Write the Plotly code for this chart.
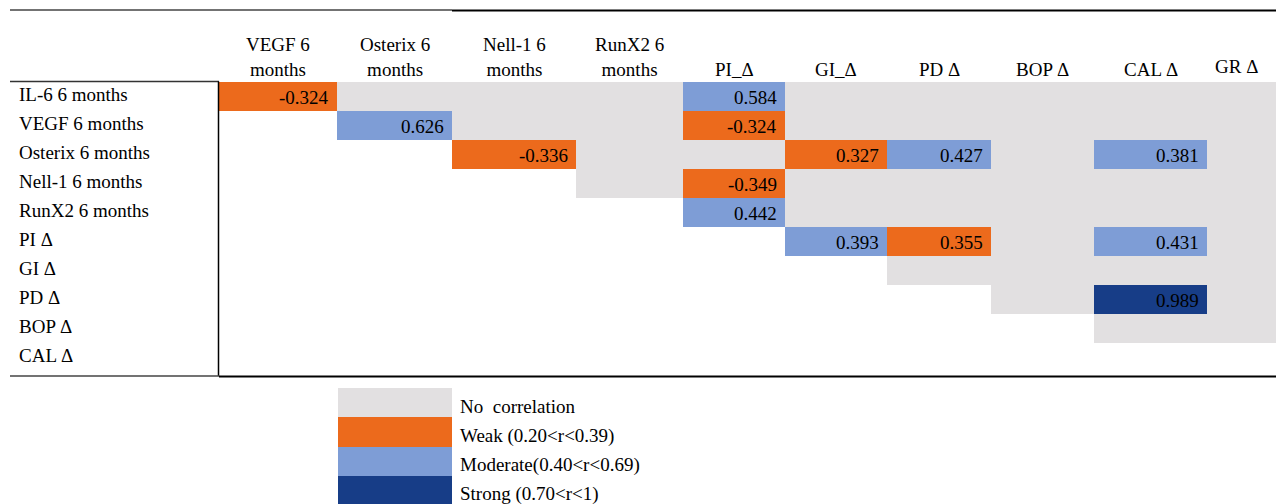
import plotly.graph_objects as go
import numpy as np

# ---------------- data ----------------
row_labels = ["IL-6 6 months", "VEGF 6 months", "Osterix 6 months", "Nell-1 6 months",
              "RunX2 6 months", "PI Δ", "GI Δ", "PD Δ", "BOP Δ", "CAL Δ"]
col_labels = ["VEGF 6<br>months", "Osterix 6<br>months", "Nell-1 6<br>months",
              "RunX2 6<br>months", "PI_Δ", "GI_Δ", "PD Δ", "BOP Δ", "CAL Δ", "GR Δ"]

# r values (None = no value shown)
r_values = [
    [-0.324, None, None, None, 0.584, None, None, None, None, None],
    [None, 0.626, None, None, -0.324, None, None, None, None, None],
    [None, None, -0.336, None, None, 0.327, 0.427, None, 0.381, None],
    [None, None, None, None, -0.349, None, None, None, None, None],
    [None, None, None, None, 0.442, None, None, None, None, None],
    [None, None, None, None, None, 0.393, 0.355, None, 0.431, None],
    [None] * 10,
    [None, None, None, None, None, None, None, None, 0.989, None],
    [None] * 10,
    [None] * 10,
]

# strength class per cell: "" outside table, N none, W weak, M moderate, S strong
strength = [
    ["W", "N", "N", "N", "M", "N", "N", "N", "N", "N"],
    ["", "M", "N", "N", "W", "N", "N", "N", "N", "N"],
    ["", "", "W", "N", "N", "W", "M", "N", "M", "N"],
    ["", "", "", "N", "W", "N", "N", "N", "N", "N"],
    ["", "", "", "", "M", "N", "N", "N", "N", "N"],
    ["", "", "", "", "", "M", "W", "N", "M", "N"],
    ["", "", "", "", "", "", "N", "N", "N", "N"],
    ["", "", "", "", "", "", "", "N", "S", "N"],
    ["", "", "", "", "", "", "", "", "N", "N"],
    ["", "", "", "", "", "", "", "", "", ""],
]

legend_labels = ["No\u00a0 correlation", "Weak (0.20&lt;r&lt;0.39)",
                 "Moderate(0.40&lt;r&lt;0.69)", "Strong (0.70&lt;r&lt;1)"]
legend_codes = ["N", "W", "M", "S"]

# ---------------- styling / layout ----------------
W, H = 1276, 504
GRAY, ORANGE, BLUE, DARK = "#E2E0E1", "#EC6A1C", "#7E9DD6", "#173D87"
FONT = "Liberation Serif"
FS = 19
code_num = {"N": 1, "W": 2, "M": 3, "S": 4}
colorscale = [[0, GRAY], [1/6, GRAY], [1/6, ORANGE], [0.5, ORANGE],
              [0.5, BLUE], [5/6, BLUE], [5/6, DARK], [1, DARK]]

col_widths = [118, 115, 124, 107, 102, 102, 104, 103, 113, 69]
x_edges = np.concatenate([[0], np.cumsum(col_widths)])
y_edges = np.arange(len(row_labels) + 1)

table_left, table_right, table_top, table_bottom = 219, 1276, 82, 372


def px(x):
    return x / W


def py(y):
    return 1 - y / H


z = [[code_num[c] if c else np.nan for c in row] for row in strength]

fig = go.Figure()
fig.add_trace(go.Heatmap(
    z=z, x=x_edges, y=y_edges, colorscale=colorscale, zmin=1, zmax=4,
    showscale=False, hoverinfo="skip", xaxis="x", yaxis="y"))

# legend swatches
fig.add_trace(go.Heatmap(
    z=[[code_num[c]] for c in legend_codes], x=[0, 1], y=np.arange(len(legend_codes) + 1),
    colorscale=colorscale, zmin=1, zmax=4, showscale=False, hoverinfo="skip",
    xaxis="x2", yaxis="y2"))

annotations = []
# cell values
for i, row in enumerate(r_values):
    for j, v in enumerate(row):
        if v is None:
            continue
        annotations.append(dict(
            x=x_edges[j + 1], y=i + 0.5, xref="x", yref="y", text=f"{v:.3f}",
            xanchor="right", yanchor="middle", xshift=-6, yshift=-1, showarrow=False,
            font=dict(family=FONT, size=FS, color="black")))

# row labels
for i, lab in enumerate(row_labels):
    annotations.append(dict(
        x=px(17), y=i + 0.5, xref="paper", yref="y", text=lab, xanchor="left",
        yanchor="middle", yshift=2, showarrow=False,
        font=dict(family=FONT, size=FS, color="black")))

# column headers
for j, lab in enumerate(col_labels):
    xs = 0
    ys = 0
    if j == len(col_labels) - 1:
        xs, ys = -5, 3
    annotations.append(dict(
        x=(x_edges[j] + x_edges[j + 1]) / 2, y=py(82), xref="x", yref="paper", text=lab,
        xanchor="center", yanchor="bottom", xshift=xs, yshift=ys, showarrow=False,
        font=dict(family=FONT, size=FS, color="black")))

# legend labels
for k, lab in enumerate(legend_labels):
    annotations.append(dict(
        x=px(458), y=k + 0.5, xref="paper", yref="y2", text=lab, xanchor="left",
        yanchor="middle", yshift=-4, showarrow=False,
        font=dict(family=FONT, size=FS, color="black")))

shapes = [
    # top rule
    dict(type="line", xref="paper", yref="paper", x0=px(10), x1=px(452), y0=py(10), y1=py(10),
         line=dict(color="#444444", width=1.5)),
    dict(type="line", xref="paper", yref="paper", x0=px(452), x1=px(1276), y0=py(10.5), y1=py(10.5),
         line=dict(color="black", width=2)),
    # header underline (row label column)
    dict(type="line", xref="paper", yref="paper", x0=px(10), x1=px(219), y0=py(81.5), y1=py(81.5),
         line=dict(color="#333333", width=1.5)),
    # vertical divider
    dict(type="line", xref="paper", yref="paper", x0=px(218.5), x1=px(218.5), y0=py(81.5), y1=py(376),
         line=dict(color="black", width=1.5)),
    # bottom rule
    dict(type="line", xref="paper", yref="paper", x0=px(10), x1=px(219), y0=py(376), y1=py(376),
         line=dict(color="#444444", width=1.5)),
    dict(type="line", xref="paper", yref="paper", x0=px(219), x1=px(1276), y0=py(376.5), y1=py(376.5),
         line=dict(color="black", width=2)),
]

hidden = dict(visible=False, fixedrange=True, showgrid=False, zeroline=False)
fig.update_layout(
    width=W, height=H, margin=dict(l=0, r=0, t=0, b=0),
    paper_bgcolor="white", plot_bgcolor="rgba(0,0,0,0)",
    showlegend=False,
    xaxis=dict(domain=[px(table_left), px(table_right)], range=[0, x_edges[-1]], **hidden),
    yaxis=dict(domain=[py(table_bottom), py(table_top)], range=[len(row_labels), 0], **hidden),
    xaxis2=dict(domain=[px(338), px(452)], range=[0, 1], anchor="y2", **hidden),
    yaxis2=dict(domain=[0, py(388)], range=[(504 - 388) / 29.2, 0], anchor="x2", **hidden),
    annotations=annotations, shapes=shapes,
)

fig.write_html(
    "out.html",
    config={"displayModeBar": False},
    post_script="document.body.style.margin='0px';document.body.style.overflow='hidden';",
)
